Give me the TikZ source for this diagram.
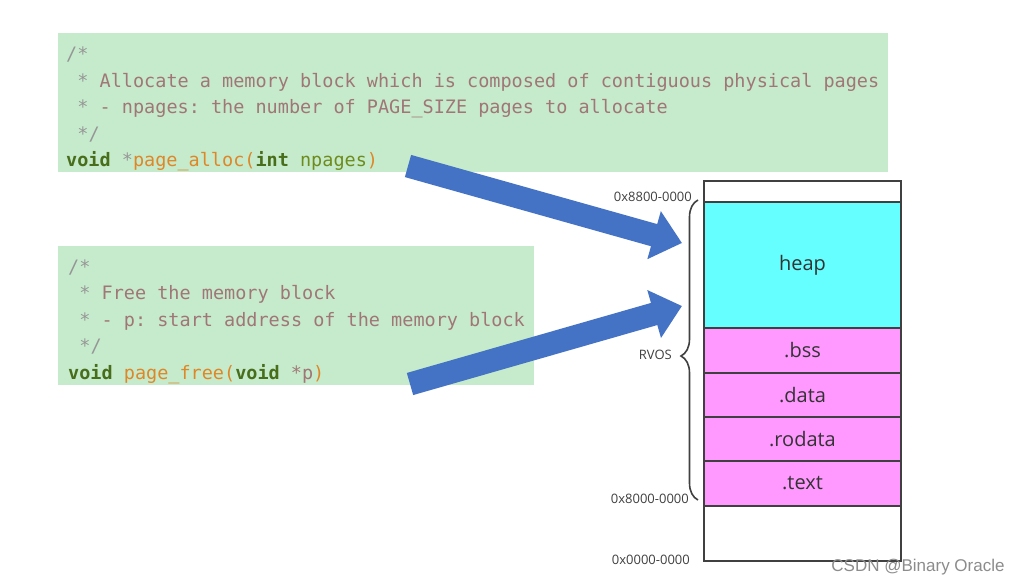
\documentclass[tikz,border=0pt]{standalone}
\usepackage{fontspec}
\setmainfont{Open Sans}
\setmonofont{DejaVu Sans Mono}
\newfontfamily\markfont{Liberation Sans}
\usetikzlibrary{positioning,arrows.meta,decorations.pathreplacing}

\definecolor{codebg}{RGB}{198,235,204}
\definecolor{cmtgray}{RGB}{150,150,150}
\definecolor{cmttext}{RGB}{160,118,118}
\definecolor{kwgreen}{RGB}{72,110,28}
\definecolor{fnorange}{RGB}{222,135,40}
\definecolor{argolive}{RGB}{110,140,30}
\definecolor{heapcyan}{RGB}{102,255,255}
\definecolor{segpink}{RGB}{255,153,255}
\definecolor{segline}{RGB}{64,64,64}
\definecolor{arrowblue}{RGB}{68,114,196}

\newcommand{\kw}[1]{\textcolor{kwgreen}{\bfseries #1}}
\newcommand{\fn}[1]{\textcolor{fnorange}{#1}}
\newcommand{\cm}[1]{\textcolor{cmttext}{#1}}
\newcommand{\st}{\textcolor{cmtgray}{*}}

\tikzset{
  codeline/.style={anchor=base west, inner sep=0pt, font=\ttfamily\fontsize{18.5}{20}\selectfont},
  memseg/.style={draw=segline, line width=1.7pt, minimum width=197pt, inner sep=0pt, outer sep=0pt,
    font=\fontsize{20}{23}\selectfont, text=black!80},
  addr/.style={anchor=east, inner sep=0pt, font=\fontsize{13}{15}\selectfont, text=black!75},
  bigarrow/.style={arrowblue, line width=23pt, -{Triangle[width=48pt,length=29pt]}}
}

\begin{document}
\begin{tikzpicture}[x=1pt,y=1pt,yscale=-1,xscale=1]
\useasboundingbox (0,0) rectangle (1024,586);
\fill[white] (0,0) rectangle (1024,586);

%Shape: Rectangle (page_alloc code)
\fill[codebg] (58,33) rectangle (888,172);
% Text Node
\node[codeline] (allocA) at (66,60.5) {\textcolor{cmtgray}{/*}};
\node[codeline] (allocB) at (77.2,87) {\st\ \cm{Allocate a memory block which is composed of contiguous physical pages}};
\node[codeline] (allocC) at (77.2,113.5) {\st\ \cm{- npages: the number of PAGE\_SIZE pages to allocate}};
\node[codeline] (allocD) at (77.2,140) {\textcolor{cmtgray}{*/}};
\node[codeline] (allocE) at (66,166.5) {\kw{void} \textcolor{cmtgray}{*}\fn{page\_alloc(}\kw{int} \textcolor{argolive}{npages}\fn{)}};

%Shape: Rectangle (page_free code)
\fill[codebg] (58,246) rectangle (534,385);
% Text Node
\node[codeline] (freeA) at (68,273) {\textcolor{cmtgray}{/*}};
\node[codeline] (freeB) at (79.2,299.5) {\st\ \cm{Free the memory block}};
\node[codeline] (freeC) at (79.2,326) {\st\ \cm{- p: start address of the memory block}};
\node[codeline] (freeD) at (79.2,352.5) {\textcolor{cmtgray}{*/}};
\node[codeline] (freeE) at (68,379) {\kw{void} \fn{page\_free(}\kw{void} \cm{*p}\fn{)}};

%Memory layout
\node[memseg, fill=white, minimum height=21pt, anchor=north west] (topfree) at (704,181) {};
\node[memseg, fill=heapcyan, minimum height=126pt, below=0pt of topfree] (heap) {heap};
\node[memseg, fill=segpink, minimum height=45pt, below=0pt of heap] (bss) {.bss};
\node[memseg, fill=segpink, minimum height=44pt, below=0pt of bss] (data) {.data};
\node[memseg, fill=segpink, minimum height=44pt, below=0pt of data] (rodata) {.rodata};
\node[memseg, fill=segpink, minimum height=45pt, below=0pt of rodata] (text) {.text};
\node[memseg, fill=white, minimum height=55pt, below=0pt of text] (lowfree) {};

%Brace
\coordinate (braceTop) at (698,200);
\coordinate (braceBot) at (698,500);
\draw[segline, line width=1.6pt, decorate, decoration={brace, amplitude=17pt, aspect=0.48}] (braceBot) -- (braceTop);

% Text Node
\node[addr] (hiAddr) at (692,197) {0x8800-0000};
\node[addr] (rvos) at (672,355) {RVOS};
\node[addr] (loAddr) at (689,499) {0x8000-0000};
\node[addr] (zeroAddr) at (690,560) {0x0000-0000};

%Block arrows
\coordinate (allocTail) at (408,166);
\coordinate (allocTip) at (682,243);
\coordinate (freeTail) at (410,384);
\coordinate (freeTip) at (682,306);
\draw[bigarrow] (allocTail) -- (allocTip);
\draw[bigarrow] (freeTail) -- (freeTip);

% Text Node
\node[inner sep=0pt, text=black!45, font=\markfont\fontsize{17}{18}\selectfont] (mark) at (918,567) {CSDN @Binary Oracle};

\end{tikzpicture}
\end{document}
